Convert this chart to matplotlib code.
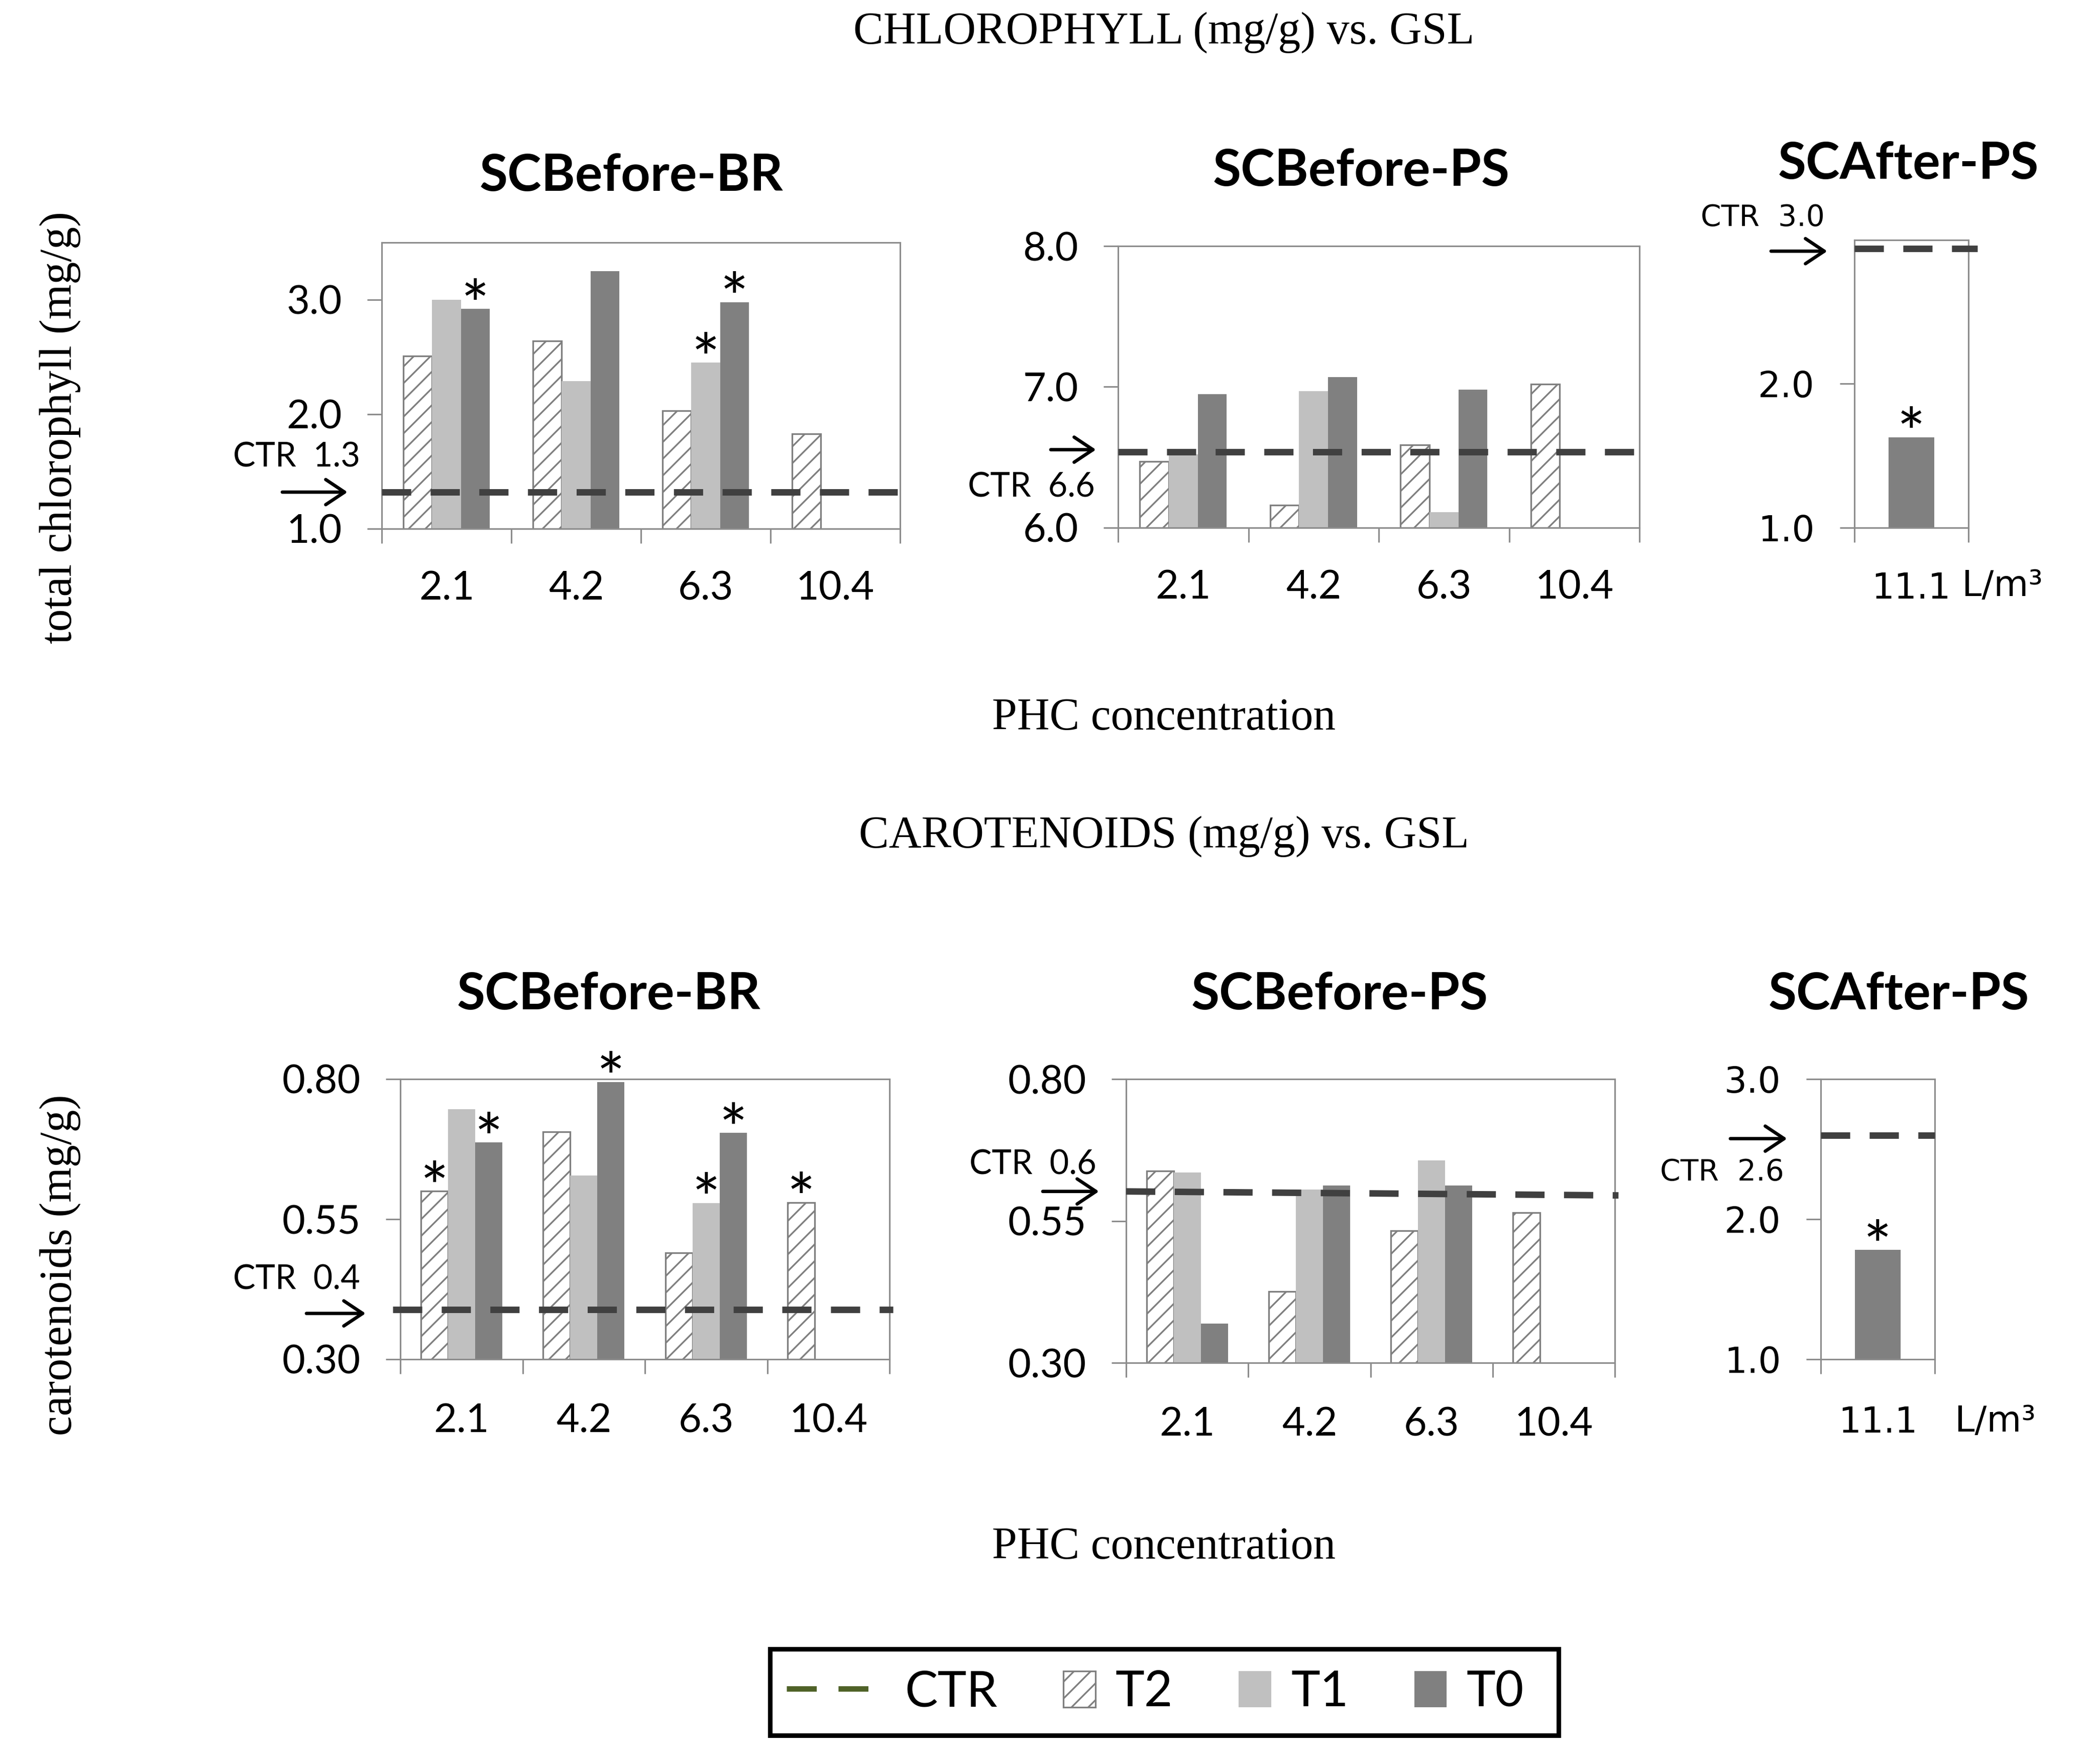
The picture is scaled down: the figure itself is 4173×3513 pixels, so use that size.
import numpy as np
import matplotlib
matplotlib.use('Agg')
import matplotlib.pyplot as plt
from matplotlib.patches import Rectangle, Patch
from matplotlib.lines import Line2D
from matplotlib.legend_handler import HandlerPatch
from matplotlib.transforms import offset_copy

nan = np.nan

# ---- data ----
conc = ['2.1', '4.2', '6.3', '10.4']
conc_after = ['11.1']

chl_br_t2 = [2.51, 2.64, 2.03, 1.83]
chl_br_t1 = [3.00, 2.29, 2.45, nan]
chl_br_t0 = [2.92, 3.25, 2.98, nan]
chl_br_ctr = [1.32, 1.32]
chl_br_stars = [('T0', 0), ('T1', 2), ('T0', 2)]

chl_ps_t2 = [6.47, 6.16, 6.59, 7.02]
chl_ps_t1 = [6.52, 6.97, 6.11, nan]
chl_ps_t0 = [6.95, 7.07, 6.98, nan]
chl_ps_ctr = [6.54, 6.54]
chl_ps_stars = []

chl_after_t0 = [1.63]
chl_after_ctr = [2.94, 2.94]
chl_after_stars = [('T0', 0)]

car_br_t2 = [0.600, 0.706, 0.490, 0.580]
car_br_t1 = [0.746, 0.628, 0.579, nan]
car_br_t0 = [0.687, 0.795, 0.704, nan]
car_br_ctr = [0.389, 0.389]
car_br_stars = [('T2', 0), ('T0', 0), ('T0', 1), ('T1', 2), ('T0', 2), ('T2', 3)]

car_ps_t2 = [0.638, 0.426, 0.533, 0.565]
car_ps_t1 = [0.635, 0.605, 0.657, nan]
car_ps_t0 = [0.369, 0.612, 0.612, nan]
car_ps_ctr = [0.602, 0.595]
car_ps_stars = []

car_after_t0 = [1.78]
car_after_ctr = [2.6, 2.6]
car_after_stars = [('T0', 0)]

# ---- figure ----
W, H, DPI = 4173, 3513, 300
fig = plt.figure(figsize=(W / DPI, H / DPI), dpi=DPI)
PT = 72.0 / DPI  # points per pixel

C_T1 = '#c0c0c0'
C_T0 = '#808080'
C_EDGE = '#7f7f7f'
C_CTR = '#404040'
C_AX = '#8c8c8c'
plt.rcParams['hatch.linewidth'] = 0.8


def fx(x):
    return x / W


def fy(y):
    return 1 - y / H


def make_axes(l, r, t, b):
    return fig.add_axes([fx(l), fy(b), (r - l) / W, (b - t) / H])


def draw_panel(ax, cats, t2, t1, t0, ctr, stars, ylim, yticks, yfmt, font,
               tick_fs, lab_pad, ctr_text, ctr_fs, txt_off, arr_off, ctr_ext):
    n = len(cats)
    x = np.arange(n)
    ymin = ylim[0]
    if t2 is not None:
        w = 0.222
        pos = {'T2': x - w, 'T1': x, 'T0': x + w}
        vals = {'T2': np.array(t2), 'T1': np.array(t1), 'T0': np.array(t0)}
        ax.bar(pos['T2'], vals['T2'] - ymin, w, bottom=ymin, facecolor='white',
               edgecolor=C_EDGE, hatch='///', linewidth=0.8, zorder=2)
        ax.bar(pos['T1'], vals['T1'] - ymin, w, bottom=ymin, color=C_T1,
               linewidth=0, zorder=2)
        ax.bar(pos['T0'], vals['T0'] - ymin, w, bottom=ymin, color=C_T0,
               linewidth=0, zorder=2)
    else:
        w = 0.4
        pos = {'T0': x}
        vals = {'T0': np.array(t0)}
        ax.bar(x, vals['T0'] - ymin, w, bottom=ymin, color=C_T0, linewidth=0,
               zorder=2)

    xl = (-0.5, n - 0.5)
    ax.set_xlim(*xl)
    ax.set_ylim(*ylim)

    # CTR dashed line
    ax.plot([xl[0] - ctr_ext[0], xl[1] + ctr_ext[1]], ctr, color=C_CTR, lw=3.1,
            dashes=(4.5, 3.0), solid_capstyle='butt', dash_capstyle='butt',
            zorder=4, clip_on=False)

    # significance stars
    for s, i in stars:
        ax.annotate('*', xy=(pos[s][i], vals[s][i]), xytext=(0, -9.5),
                    textcoords='offset points', ha='center', va='baseline',
                    fontsize=32, family='Lato', zorder=5,
                    annotation_clip=False)

    # CTR annotation (arrow + text) left of the axes
    base = ax.get_yaxis_transform()
    t_txt = offset_copy(base, fig=fig, x=txt_off[0] * PT, y=txt_off[1] * PT,
                        units='points')
    ax.text(0, ctr[0], ctr_text, transform=t_txt, ha='right', va='center',
            fontsize=ctr_fs, family=font)
    t_a0 = offset_copy(base, fig=fig, x=arr_off[0] * PT, y=arr_off[2] * PT,
                       units='points')
    t_a1 = offset_copy(base, fig=fig, x=arr_off[1] * PT, y=arr_off[2] * PT,
                       units='points')
    ax.annotate('', xy=(0, ctr[0]), xycoords=t_a1, xytext=(0, ctr[0]),
                textcoords=t_a0, annotation_clip=False,
                arrowprops=dict(arrowstyle='->,head_length=0.45,head_width=0.3',
                                lw=1.6, color='black', mutation_scale=20,
                                shrinkA=0, shrinkB=0))

    # axes styling
    for sp in ax.spines.values():
        sp.set_color(C_AX)
        sp.set_linewidth(0.75)
    ax.set_yticks(yticks)
    ax.set_yticklabels([yfmt % v for v in yticks], fontsize=tick_fs, family=font)
    ax.tick_params(axis='y', length=7, width=0.75, color=C_AX, pad=12)
    ax.set_xticks(np.arange(n + 1) - 0.5)
    ax.set_xticklabels([])
    ax.tick_params(axis='x', which='major', length=7, width=0.75, color=C_AX)
    ax.set_xticks(x, minor=True)
    ax.set_xticklabels(cats, minor=True, fontsize=tick_fs, family=font)
    ax.tick_params(axis='x', which='minor', length=0, pad=lab_pad)


# ---- top row: chlorophyll ----
ax = make_axes(760, 1792, 483, 1053)
draw_panel(ax, conc, chl_br_t2, chl_br_t1, chl_br_t0, chl_br_ctr, chl_br_stars,
           (1.0, 3.5), [1.0, 2.0, 3.0], '%.1f', 'Lato', 19, 20,
           'CTR  1.3', 16, (-43, 70), (-198, -68, 0), (0, 0))

ax = make_axes(2226, 3264, 490, 1051)
draw_panel(ax, conc, chl_ps_t2, chl_ps_t1, chl_ps_t0, chl_ps_ctr, chl_ps_stars,
           (6.0, 8.0), [6.0, 7.0, 8.0], '%.1f', 'Lato', 19, 20,
           'CTR  6.6', 16, (-46, -71), (-134, -44, 4), (0, 0))

ax = make_axes(3692, 3919, 478, 1051)
draw_panel(ax, conc_after, None, None, chl_after_t0, chl_after_ctr,
           chl_after_stars, (1.0, 3.0), [1.0, 2.0], '%.1f', 'DejaVu Sans', 17,
           21, 'CTR  3.0', 14, (-59, 62), (-166, -54, -5), (0, 0.08))
ax.annotate('L/m\u00b3', xy=(1, 0), xycoords='axes fraction',
            xytext=(-13 * PT, -117 * PT), textcoords='offset points',
            ha='left', va='center', fontsize=17, family='DejaVu Sans')

# ---- bottom row: carotenoids ----
ax = make_axes(797, 1771, 2149, 2707)
draw_panel(ax, conc, car_br_t2, car_br_t1, car_br_t0, car_br_ctr, car_br_stars,
           (0.30, 0.80), [0.30, 0.55, 0.80], '%.2f', 'Lato', 19, 21,
           'CTR  0.4', 16, (-80, 59), (-187, -69, -8), (0.06, 0.03))

ax = make_axes(2242, 3215, 2149, 2714)
draw_panel(ax, conc, car_ps_t2, car_ps_t1, car_ps_t0, car_ps_ctr, car_ps_stars,
           (0.30, 0.80), [0.30, 0.55, 0.80], '%.2f', 'Lato', 19, 21,
           'CTR  0.6', 16, (-59, 53), (-166, -54, 0), (0, 0.03))

ax = make_axes(3625, 3852, 2149, 2707)
draw_panel(ax, conc_after, None, None, car_after_t0, car_after_ctr,
           car_after_stars, (1.0, 3.0), [1.0, 2.0, 3.0], '%.1f', 'DejaVu Sans',
           17, 22, 'CTR  2.6', 14, (-73, -74), (-180, -67, -7), (0, 0))
ax.annotate('L/m\u00b3', xy=(1, 0), xycoords='axes fraction',
            xytext=(40 * PT, -124 * PT), textcoords='offset points',
            ha='left', va='center', fontsize=17, family='DejaVu Sans')

# ---- titles and labels ----
serif = 'Liberation Serif'
fig.text(fx(2317), fy(65), 'CHLOROPHYLL (mg/g) vs. GSL', ha='center',
         va='center', fontsize=21.5, family=serif)
fig.text(fx(2317), fy(1666), 'CAROTENOIDS (mg/g) vs. GSL', ha='center',
         va='center', fontsize=21.5, family=serif)
fig.text(fx(2317), fy(1431), 'PHC concentration', ha='center', va='center',
         fontsize=21.5, family=serif)
fig.text(fx(2317), fy(3082), 'PHC concentration', ha='center', va='center',
         fontsize=21.5, family=serif)
fig.text(fx(120), fy(851), 'total chlorophyll (mg/g)', ha='center',
         va='center', rotation=90, fontsize=21.5, family=serif)
fig.text(fx(120), fy(2519), 'carotenoids (mg/g)', ha='center', va='center',
         rotation=90, fontsize=21.5, family=serif)

for x_, y_, t_ in [(1257, 351, 'SCBefore-BR'), (2710, 341, 'SCBefore-PS'),
                   (3799, 327, 'SCAfter-PS'), (1212, 1981, 'SCBefore-BR'),
                   (2667, 1981, 'SCBefore-PS'), (3780, 1981, 'SCAfter-PS')]:
    fig.text(fx(x_), fy(y_), t_, ha='center', va='center', fontsize=24.5,
             family='Lato', weight='bold')

# ---- legend ----
def narrow_patch(legend, orig_handle, xdescent, ydescent, width, height, fontsize):
    return Rectangle((-xdescent + width * 0.67, -ydescent), width * 0.33, height)


handles = [
    Line2D([], [], color='#4f6228', lw=2.6, dashes=(5.5, 4.0)),
    Patch(facecolor='white', edgecolor=C_EDGE, hatch='///', linewidth=0.8),
    Patch(facecolor=C_T1, linewidth=0),
    Patch(facecolor=C_T0, linewidth=0),
]
fig.legend(handles, ['CTR', 'T2', 'T1', 'T0'], loc='center',
           bbox_to_anchor=(fx(2300), fy(3370)), ncol=4, frameon=False,
           prop={'family': 'Lato', 'size': 23.5}, handlelength=2.0,
           handletextpad=0.4, columnspacing=0.0, handleheight=0.75,
           handler_map={Patch: HandlerPatch(patch_func=narrow_patch)})
fig.patches.append(Rectangle((fx(1533), fy(3456)), (3103 - 1533) / W,
                             (3456 - 3284) / H, transform=fig.transFigure,
                             fill=False, edgecolor='black', linewidth=2.2))

fig.savefig('out.png', dpi=DPI, facecolor='white')
